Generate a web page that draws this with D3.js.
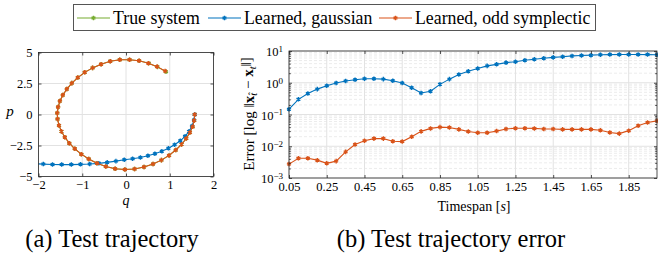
<!DOCTYPE html>
<html>
<head>
<meta charset="utf-8">
<script src="https://cdn.jsdelivr.net/npm/d3@7"></script>
<style>
  body { margin: 0; background: #fff; }
  svg { display: block; }
  text { font-family: "Liberation Serif", "DejaVu Serif", serif; fill: #000; }
</style>
</head>
<body>
<svg id="chart" width="658" height="254"></svg>
<script>
// phase portrait (q, p), one point every 0.05 s
const trueQ = [1.571, 1.559, 1.522, 1.461, 1.377, 1.270, 1.138, 0.984, 0.810, 0.618, 0.412, 0.196, -0.025, -0.248, -0.461, -0.664, -0.852, -1.021, -1.170, -1.296, -1.397, -1.476, -1.531, -1.564, -1.570, -1.552, -1.510, -1.443, -1.351, -1.238, -1.101, -0.942, -0.764, -0.569, -0.360, -0.143, 0.081, 0.300, 0.520, 0.720, 0.915];
const trueP = [0, -0.49, -0.98, -1.46, -1.94, -2.41, -2.86, -3.30, -3.68, -4.00, -4.24, -4.39, -4.43, -4.37, -4.19, -3.93, -3.59, -3.20, -2.77, -2.31, -1.84, -1.36, -0.88, -0.37, 0.12, 0.60, 1.09, 1.58, 2.05, 2.53, 2.98, 3.40, 3.76, 4.06, 4.29, 4.41, 4.42, 4.33, 4.13, 3.84, 3.44];
const gaussQ = [1.571, 1.555, 1.510, 1.440, 1.350, 1.240, 1.110, 0.970, 0.820, 0.660, 0.500, 0.330, 0.150, -0.040, -0.230, -0.430, -0.620, -0.830, -1.040, -1.250, -1.470, -1.680, -1.890, -2.100];
const gaussP = [0, -0.45, -0.92, -1.36, -1.76, -2.12, -2.44, -2.72, -2.96, -3.16, -3.33, -3.47, -3.57, -3.65, -3.76, -3.86, -3.94, -3.99, -4.02, -4.04, -4.04, -4.03, -4.00, -3.97];
const oddQ = [1.571, 1.559, 1.522, 1.461, 1.377, 1.270, 1.138, 0.984, 0.810, 0.618, 0.412, 0.196, -0.025, -0.248, -0.461, -0.664, -0.852, -1.021, -1.170, -1.296, -1.397, -1.476, -1.531, -1.564, -1.570, -1.552, -1.510, -1.443, -1.351, -1.238, -1.101, -0.942, -0.764, -0.569, -0.360, -0.143, 0.081, 0.300, 0.511, 0.710, 0.894];
const oddP = [0, -0.49, -0.98, -1.46, -1.94, -2.41, -2.86, -3.30, -3.68, -4.00, -4.24, -4.39, -4.43, -4.37, -4.19, -3.93, -3.59, -3.20, -2.77, -2.31, -1.84, -1.36, -0.88, -0.37, 0.12, 0.60, 1.09, 1.58, 2.05, 2.53, 2.98, 3.40, 3.76, 4.06, 4.29, 4.41, 4.42, 4.33, 4.14, 3.86, 3.50];

// error vs timespan
const timespan = [0.05, 0.10, 0.15, 0.20, 0.25, 0.30, 0.35, 0.40, 0.45, 0.50, 0.55, 0.60, 0.65, 0.70, 0.75, 0.80, 0.85, 0.90, 0.95, 1.00, 1.05, 1.10, 1.15, 1.20, 1.25, 1.30, 1.35, 1.40, 1.45, 1.50, 1.55, 1.60, 1.65, 1.70, 1.75, 1.80, 1.85, 1.90, 1.95, 2.00];
const errGauss = [0.147, 0.30, 0.46, 0.63, 0.81, 0.98, 1.13, 1.24, 1.33, 1.33, 1.30, 1.15, 0.98, 0.70, 0.475, 0.54, 0.89, 1.30, 1.82, 2.3, 2.8, 3.4, 3.8, 4.3, 4.6, 5.1, 5.5, 5.9, 6.3, 6.6, 7.0, 7.2, 7.4, 7.6, 7.7, 7.8, 7.8, 7.8, 7.7, 7.6];
const errOdd = [0.00274, 0.0042, 0.0042, 0.00365, 0.0029, 0.0034, 0.00665, 0.0113, 0.0150, 0.0174, 0.0174, 0.0143, 0.0140, 0.0200, 0.0294, 0.0365, 0.0400, 0.0390, 0.0340, 0.0290, 0.0267, 0.0267, 0.0300, 0.0350, 0.0370, 0.0370, 0.0365, 0.0350, 0.0350, 0.0340, 0.0340, 0.0340, 0.0340, 0.0320, 0.0270, 0.0250, 0.0310, 0.0440, 0.0560, 0.0630];

const qTicks = [-2, -1, 0, 1, 2];
const pTicks = [-5, -2.5, 0, 2.5, 5];
const tTicks = [0.05, 0.25, 0.45, 0.65, 0.85, 1.05, 1.25, 1.45, 1.65, 1.85];
const eTicks = [1e-3, 1e-2, 1e-1, 1e0, 1e1];

const legendNames = ["True system", "Learned, gaussian", "Learned, odd symplectic"];
const colors = ["#77AC30", "#0072BD", "#D95319"];

const svg = d3.select("#chart");
const axisColor = "#262626";
const gridColor = "#e2e2e2";

const star = d3.symbol().type(d3.symbolAsterisk).size(14);

function drawSeries(g, xs, ys, color) {
  const pts = xs.map((x, i) => [x, ys[i]]);
  g.append("path")
    .attr("d", d3.line()(pts))
    .attr("fill", "none")
    .attr("stroke", color)
    .attr("stroke-width", 1.1);
  g.selectAll(null).data(pts).join("path")
    .attr("transform", d => `translate(${d[0]},${d[1]})`)
    .attr("d", star)
    .attr("fill", "none")
    .attr("stroke", color)
    .attr("stroke-width", 1.4);
}

function box(g, x, y) {
  const [x0, x1] = x.range(), [y0, y1] = y.range();
  g.append("rect")
    .attr("x", x0).attr("y", y1)
    .attr("width", x1 - x0).attr("height", y0 - y1)
    .attr("fill", "none").attr("stroke", axisColor).attr("stroke-width", 0.8);
}

function styleAxis(sel) {
  sel.select(".domain").remove();
  sel.selectAll(".tick line").attr("stroke", axisColor).attr("stroke-width", 0.8);
  sel.selectAll("text").attr("font-size", 12.5).attr("font-family", "Liberation Serif");
}

// ---------- (a) phase plot ----------
const xq = d3.scaleLinear([-2, 2], [38.5, 213.5]);
const yp = d3.scaleLinear([-5, 5], [176.5, 52.5]);

const ga = svg.append("g");
ga.append("g").selectAll("line").data(qTicks).join("line")
  .attr("x1", d => xq(d)).attr("x2", d => xq(d))
  .attr("y1", yp.range()[0]).attr("y2", yp.range()[1])
  .attr("stroke", gridColor);
ga.append("g").selectAll("line").data(pTicks).join("line")
  .attr("y1", d => yp(d)).attr("y2", d => yp(d))
  .attr("x1", xq.range()[0]).attr("x2", xq.range()[1])
  .attr("stroke", gridColor);

svg.append("clipPath").attr("id", "clipA").append("rect")
  .attr("x", 38.5).attr("y", 52.5).attr("width", 175).attr("height", 124);
const plotA = ga.append("g").attr("clip-path", "url(#clipA)");
drawSeries(plotA, trueQ.map(xq), trueP.map(yp), colors[0]);
drawSeries(plotA, gaussQ.map(xq), gaussP.map(yp), colors[1]);
drawSeries(plotA, oddQ.map(xq), oddP.map(yp), colors[2]);

ga.append("g").attr("transform", `translate(0,${yp.range()[0]})`)
  .call(d3.axisBottom(xq).tickValues(qTicks).tickSize(-3).tickPadding(4).tickFormat(d3.format("~g")))
  .call(styleAxis);
ga.append("g").attr("transform", `translate(0,${yp.range()[1]})`)
  .call(d3.axisTop(xq).tickValues(qTicks).tickSize(-3).tickFormat(""))
  .call(styleAxis);
ga.append("g").attr("transform", `translate(${xq.range()[0]},0)`)
  .call(d3.axisLeft(yp).tickValues(pTicks).tickSize(-3).tickPadding(6).tickFormat(d3.format("~g")))
  .call(styleAxis);
ga.append("g").attr("transform", `translate(${xq.range()[1]},0)`)
  .call(d3.axisRight(yp).tickValues(pTicks).tickSize(-3).tickFormat(""))
  .call(styleAxis);
box(ga, xq, yp);

ga.append("text").attr("x", 126).attr("y", 205).attr("text-anchor", "middle")
  .attr("font-size", 14).attr("font-style", "italic").text("q");
ga.append("text").attr("x", 10).attr("y", 116).attr("text-anchor", "middle")
  .attr("font-size", 15).attr("font-style", "italic").text("p");

// ---------- (b) error plot ----------
const xt = d3.scaleLinear([0.05, 2.0], [289, 657]);
const ye = d3.scaleLog([1e-3, 1e1], [178, 51]);

const gb = svg.append("g");
const minor = [];
eTicks.slice(0, -1).forEach(d => { for (let k = 2; k <= 9; k++) minor.push(d * k); });

gb.append("g").selectAll("line").data(minor).join("line")
  .attr("y1", d => ye(d)).attr("y2", d => ye(d))
  .attr("x1", xt.range()[0]).attr("x2", xt.range()[1])
  .attr("stroke", "#ececec").attr("stroke-dasharray", "3,2");
gb.append("g").selectAll("line").data(tTicks).join("line")
  .attr("x1", d => xt(d)).attr("x2", d => xt(d))
  .attr("y1", ye.range()[0]).attr("y2", ye.range()[1])
  .attr("stroke", gridColor);
gb.append("g").selectAll("line").data(eTicks).join("line")
  .attr("y1", d => ye(d)).attr("y2", d => ye(d))
  .attr("x1", xt.range()[0]).attr("x2", xt.range()[1])
  .attr("stroke", gridColor);

drawSeries(gb, timespan.map(xt), errGauss.map(ye), colors[1]);
drawSeries(gb, timespan.map(xt), errOdd.map(ye), colors[2]);

gb.append("g").attr("transform", `translate(0,${ye.range()[0]})`)
  .call(d3.axisBottom(xt).tickValues(tTicks).tickSize(-3).tickPadding(4).tickFormat(d3.format(".2f")))
  .call(styleAxis);
gb.append("g").attr("transform", `translate(0,${ye.range()[1]})`)
  .call(d3.axisTop(xt).tickValues(tTicks).tickSize(-3).tickFormat(""))
  .call(styleAxis);

const yl = gb.append("g").attr("transform", `translate(${xt.range()[0]},0)`)
  .call(d3.axisLeft(ye).tickValues(eTicks).tickSize(-3).tickFormat(""))
  .call(styleAxis);
yl.selectAll(".tick").append("text")
  .attr("x", -6).attr("dy", "0.36em").attr("text-anchor", "end")
  .attr("font-size", 12.5).attr("fill", "#000")
  .each(function(d) {
    const t = d3.select(this);
    t.append("tspan").text("10");
    t.append("tspan").attr("dy", "-0.45em").attr("font-size", 9)
      .text(d3.format("d")(Math.log10(d)).replace("-", "\u2212"));
  });
gb.append("g").attr("transform", `translate(${xt.range()[0]},0)`)
  .call(d3.axisLeft(ye).tickValues(minor).tickSize(-1.8).tickFormat(""))
  .call(styleAxis);
gb.append("g").attr("transform", `translate(${xt.range()[1]},0)`)
  .call(d3.axisRight(ye).tickValues(eTicks).tickSize(-3).tickFormat(""))
  .call(styleAxis);
gb.append("g").attr("transform", `translate(${xt.range()[1]},0)`)
  .call(d3.axisRight(ye).tickValues(minor).tickSize(-1.8).tickFormat(""))
  .call(styleAxis);
box(gb, xt, ye);

gb.append("text").attr("x", 474).attr("y", 211).attr("text-anchor", "middle")
  .attr("font-size", 14)
  .call(t => {
    t.append("tspan").text("Timespan [");
    t.append("tspan").attr("font-style", "italic").text("s");
    t.append("tspan").text("]");
  });

const ylab = gb.append("text")
  .attr("transform", "translate(254,114) rotate(-90)")
  .attr("text-anchor", "middle").attr("font-size", 15);
ylab.append("tspan").text("Error [log \u2016");
ylab.append("tspan").attr("font-weight", "bold").text("x");
ylab.append("tspan").attr("dy", "0.3em").attr("font-size", 10.5).attr("font-style", "italic").text("t\u0302");
ylab.append("tspan").attr("dy", "-0.3em").text(" \u2212 ");
ylab.append("tspan").attr("font-weight", "bold").text("x");
ylab.append("tspan").attr("dy", "0.3em").attr("font-size", 10.5).attr("font-style", "italic").text("t");
ylab.append("tspan").attr("dy", "-0.3em").text("\u2016]");

// ---------- legend ----------
const lg = svg.append("g");
lg.append("rect").attr("x", 73.5).attr("y", 4.5).attr("width", 522).attr("height", 26)
  .attr("fill", "#fff").attr("stroke", "#555").attr("stroke-width", 1);
const legendX = [77, 208, 379];
legendNames.forEach((name, i) => {
  const x0 = legendX[i];
  lg.append("line").attr("x1", x0).attr("x2", x0 + 33).attr("y1", 18).attr("y2", 18)
    .attr("stroke", colors[i]).attr("stroke-width", 1.1);
  lg.append("path").attr("transform", `translate(${x0 + 16.5},18)`).attr("d", star)
    .attr("fill", "none").attr("stroke", colors[i]).attr("stroke-width", 1.4);
  lg.append("text").attr("x", x0 + 36).attr("y", 23.5).attr("font-size", 17.8).text(name);
});

// ---------- captions ----------
svg.append("text").attr("x", 112).attr("y", 247).attr("text-anchor", "middle")
  .attr("font-size", 24.5).text("(a) Test trajectory");
svg.append("text").attr("x", 451).attr("y", 247).attr("text-anchor", "middle")
  .attr("font-size", 24.5).text("(b) Test trajectory error");
</script>
</body>
</html>
